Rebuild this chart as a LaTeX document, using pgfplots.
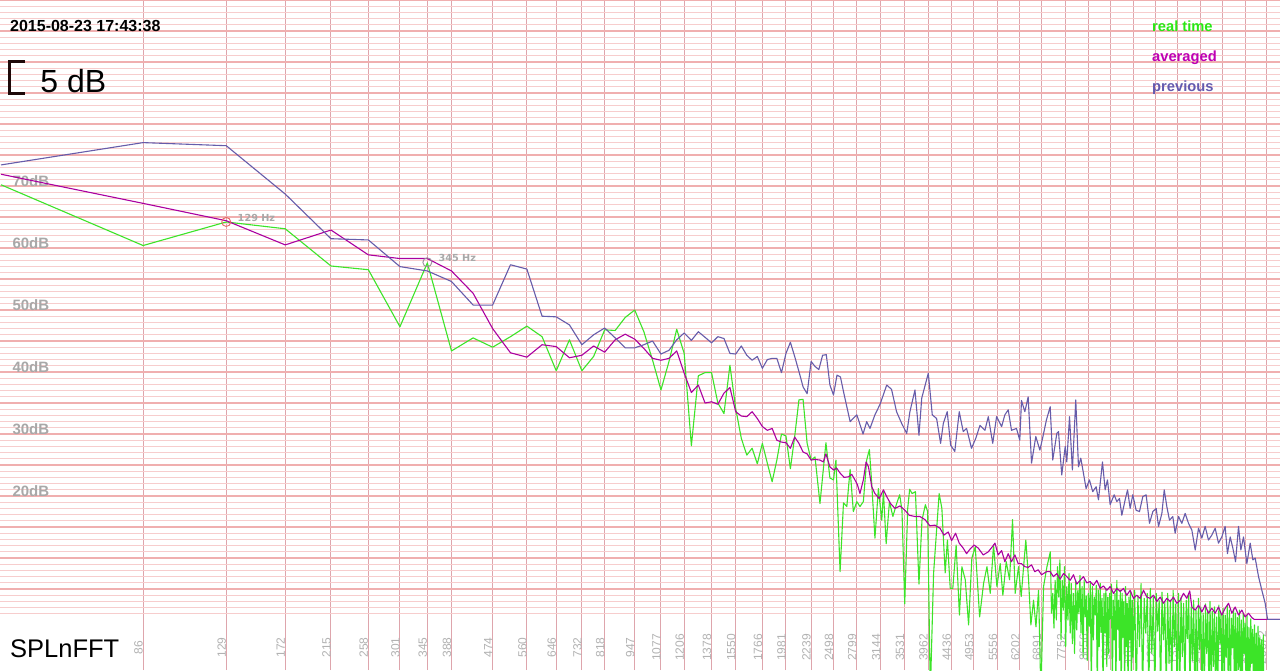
\documentclass[border=0pt]{standalone}
\usepackage{fontspec}
\setmainfont{Liberation Sans}
\newfontfamily\dejavu{DejaVu Sans}
\usepackage{pgfplots}
\pgfplotsset{compat=1.18}
\definecolor{gridthin}{RGB}{247,205,205}
\definecolor{gridthick}{RGB}{240,175,175}
\definecolor{vgrid}{RGB}{222,165,172}
\definecolor{tickgray}{RGB}{178,178,178}
\definecolor{labgray}{RGB}{168,168,168}
\definecolor{rtgreen}{RGB}{60,228,40}
\definecolor{avgmag}{RGB}{170,0,160}
\definecolor{prevblue}{RGB}{102,92,170}
\definecolor{legmag}{RGB}{190,0,180}
\definecolor{legblue}{RGB}{100,90,175}
\definecolor{leggreen}{RGB}{40,232,20}
\definecolor{bracketc}{RGB}{30,8,8}
\definecolor{mk129}{RGB}{232,100,100}
\definecolor{mk345}{RGB}{156,140,156}
\begin{document}
\begin{tikzpicture}
\begin{axis}[
  width=1280pt, height=670pt, scale only axis,
  xmode=log, xmin=0.9951, xmax=512, ymin=-8.06, ymax=100,
  axis line style={draw=none},
  major tick length=0pt, minor tick length=0pt,
  axis background/.style={fill=white},
  xtick={2,3,4,5,6,7,8,9,11,13,15,17,19,22,25,28,32,36,41,46,52,58,65,73,82,92,103,115,129,144,160,180,201,224,250,279,311,347,387,432,480},
  xticklabels={86,129,172,215,258,301,345,388,474,560,646,732,818,947,1077,1206,1378,1550,1766,1981,2239,2498,2799,3144,3531,3962,4436,4953,5556,6202,6891,7752,8656,9647,10767,12016,13394,14944,16667,18605,20672},
  ytick={5,10,...,100},
  yticklabels={,,,20dB,,30dB,,40dB,,50dB,,60dB,,70dB,,,,,,},
  minor ytick={1,2,...,100},
  xmajorgrids, ymajorgrids, yminorgrids,
  major x grid style={vgrid, line width=1pt},
  major y grid style={gridthick, line width=1.8pt},
  minor y grid style={gridthin, line width=1pt},
  xticklabel style={font=\fontsize{12}{12}\selectfont, text=tickgray, yshift=22.5pt, xshift=-4.5pt, rotate=90, anchor=center},
  yticklabel style={font=\bfseries\fontsize{15}{15}\selectfont, text=labgray, anchor=base west, xshift=9pt},
]
% real time
\addplot[rtgreen, mark=none, line width=1.1pt, line join=round] coordinates {
(1,70.2)(2,60.4)(3,64.2)(4,63.1)(5,57.1)(6,56.5)(7,47.3)(8,57.6)(9,43.4)(10,45.5)(11,44.0)(12,45.7)(13,47.4)(14,45.7)(15,40.2)(16,45.2)(17,40.2)(18,42.5)(19,46.8)(20,46.7)(21,48.8)(22,50.0)(23,46.5)(24,41.9)(25,37.1)(26,41.7)(27,46.9)(28,43.0)(29,28.1)(30,39.4)(31,39.9)(32,39.9)(33,35.0)(34,33.3)(35,41.1)(36,34.1)(37,29.3)(38,26.6)(39,27.7)(40,25.2)(41,28.5)(42,25.3)(43,22.3)(44,25.8)(45,30.0)(46,29.7)(47,24.4)(48,29.6)(49,35.5)(50,35.6)(51,28.5)(52,25.8)(53,26.3)(54.3,18.8)(55.9,28.6)(57.0,22.9)(58.0,22.6)(58.7,25.8)(59.9,7.8)(60.9,18.9)(61.9,18.3)(62.9,24.3)(63.9,17.5)(65.0,19.1)(66.0,18.3)(67.1,19.1)(68.2,25.8)(69.1,27.5)(69.9,22.0)(71.0,13.2)(72.2,21.2)(73.4,16.1)(74.0,20.7)(75.0,12.3)(76.2,19.1)(77.5,16.7)(78.8,18.6)(80.1,20.2)(81.0,17.7)(82.1,2.6)(83.3,18.0)(84.1,21.1)(85.1,20.4)(86.5,20.7)(88.0,5.8)(89.3,16.1)(90.8,18.6)(91.8,17.5)(93.0,-12)(94.5,7.5)(96.0,15.0)(97.1,20.4)(98.4,18.0)(100.0,7.6)(101.1,12.9)(102.5,5.1)(103.8,5.1)(105.5,12.1)(107.2,0.8)(108.5,8.6)(110.3,6.5)(112.1,-0.8)(113.9,10.0)(115.8,11.8)(118.3,0.5)(120.6,5.9)(122.6,8.6)(124.6,4.3)(126.6,12.1)(128.7,5.4)(130.8,9.1)(132.5,4.0)(134.7,9.4)(136.9,6.5)(138.9,16.2)(140.7,4.3)(143.0,8.6)(144.9,3.8)(146.6,8.6)(148.2,12.9)(150.2,6.5)(151.9,-0.8)(153.9,3.2)(155.7,-1.1)(157.7,4.8)(159.5,-12)(161.6,5.4)(164.3,8.6)
(167,11.0)(168,1.1)(169,4.3)(170,-1.3)(171,6.4)(172,0.0)(173,8.6)(174,3.7)(175,9.7)(176,-3.2)(177,6.4)(178,1.6)(179,8.6)(180,-4.3)(181,5.4)(182,0.0)(183,7.5)(184,-2.1)(185,5.9)(186,-3.8)(187,4.3)(188,-5.4)(189,6.4)(190,-1.6)(191,4.8)(192,1.0)(193,7.2)(194,-2.1)(195,5.4)(196,-6.0)(197,6.4)(198,0.5)(199,3.9)(200,-6.5)(201,4.3)(202,-1.0)(203,6.0)(204,-12)(205,5.4)(206,-3.2)(207,3.7)(208,0.8)(209,5.6)(210,-12)(211,4.8)(212,-4.3)(213,5.9)(214,-2.0)(215,3.5)(216,-12)(217,4.3)(218,-2.1)(219,5.1)(220,-7.5)(221,3.7)(222,-5.4)(223,4.3)(224,0.2)(225,5.8)(226,-12)(227,3.2)(228,-3.2)(229,4.3)(230,-12)(231,6.4)(232,-1.5)(233,3.2)(234,-6.5)(235,4.8)(236,-12)(237,4.3)(238,-2.8)(239,3.0)(240,-12)(241,5.4)(242,-4.3)(243,2.7)(244,-12)(245,3.7)(246,-3.2)(247,4.6)(248,-12)(249,3.2)(250,-6.0)
(252,4.8)(254,-12)(256,3.9)(258,-4.3)(260,5.9)(262,-12)(264,3.5)(266,-2.1)(268,4.3)(270,-12)(272,5.1)(274,-5.4)(276,3.7)(278,-12)(280,4.3)(282,-1.8)(284,3.2)(286,-12)(288,4.5)(290,-3.2)(292,2.9)(294,-12)(296,4.3)(298,-7.0)(300,3.2)(302,-12)(304,4.8)(306,-4.3)(308,2.6)(310,-12)(312,4.3)(314,-12)(316,3.7)(318,-5.9)(320,2.7)(322,-12)(324,3.2)(326,-3.0)(328,4.1)(330,-12)(332,2.1)(334,-6.5)(336,3.2)(338,-12)(340,1.6)(342,-12)(344,3.5)(346,-4.8)(348,2.1)(350,-12)(352,1.1)(354,-12)(356,2.6)(358,-5.4)(360,1.6)(362,-12)(364,3.0)(366,-12)(368,1.4)(370,-7.5)(372,2.1)(374,-12)(376,0.5)(378,-12)(380,2.4)(382,-3.8)(384,1.1)(386,-12)(388,1.9)(390,-12)(392,0.8)(394,-6.0)(396,2.4)(398,-12)(400,1.6)(402,-12)(404,0.3)(406,-4.5)(408,1.8)(410,-12)(412,1.1)(414,-12)(416,0.4)(418,-8)(420,1.6)(422,-12)(424,0.0)(426,-12)(428,1.1)(430,-5.4)(432,-0.5)(434,-12)(436,0.8)(438,-12)(440,-1.2)(442,-12)(444,0.2)(446,-7)(448,-1.5)(450,-12)(452,-0.8)(454,-12)(456,-2.1)(458,-12)(460,-1.0)(462,-12)(464,-2.7)(466,-12)(468,-3.2)(470,-12)(472,-2.4)(474,-20)(512,-20)
};
% averaged
\addplot[avgmag, mark=none, line width=1.1pt, line join=round] coordinates {
(1,71.9)(2,67.2)(3,64.4)(4,60.5)(5,62.9)(6,58.9)(7,58.3)(8,58.3)(9,56.3)(10,52.7)(11,47.0)(12,43.1)(13,42.4)(14,44.4)(15,44.1)(16,42.3)(17,42.7)(18,44.2)(19,43.2)(20,45.2)(21,46.1)(22,45.3)(23,43.8)(24,42.2)(25,41.9)(26,42.2)(27,43.4)(28,39.8)(29,36.7)(30,37.9)(31,35.0)(32,35.2)(33,34.8)(34,36.6)(35,37.5)(36,33.6)(37,32.9)(38,32.8)(39,33.6)(40,32.5)(41,31.2)(42,30.6)(43,30.9)(44,29.0)(45,28.7)(46,28.6)(47,27.7)(48,29.5)(49,28.5)(50,27.1)(51,26.8)(52,25.8)(53,25.9)(54.3,25.8)(55.2,25.5)(55.9,26.8)(57.0,24.7)(58.0,24.2)(58.9,24.5)(59.9,23.7)(61.1,23.0)(62.4,23.1)(63.4,23.5)(64.4,22.6)(65.2,21.8)(66.0,20.4)(67.1,22.6)(68.0,25.5)(68.8,24.7)(69.9,21.5)(71.0,20.4)(72.5,19.6)(74.0,21.0)(75.2,19.9)(76.6,18.8)(78.3,18.0)(80.2,18.4)(82.2,17.7)(83.9,16.9)(86.3,16.7)(88.4,16.7)(90.6,16.2)(92.8,15.2)(95.1,15.3)(97.5,14.8)(99.4,13.7)(101.5,14.2)(103.2,12.8)(105.2,14.0)(107.1,12.4)(109.2,11.6)(111.0,10.7)(112.8,11.4)(115.1,12.1)(117.5,11.6)(120.4,10.5)(123.4,11.0)(126.1,11.9)(127.5,12.4)(129.5,10.5)(131.7,11.2)(133.8,9.4)(136.0,10.7)(138.2,9.4)(140.5,10.5)(142.8,9.1)(145.1,9.1)(147.5,8.6)(149.9,8.5)(152.4,8.9)(154.8,7.8)(157.4,8.1)(160.0,7.3)(163.9,7.8)(166.9,7.8)(169.6,7.0)(172.4,7.5)(175.2,6.6)(178.1,7.5)(181.0,7.0)(184.0,6.4)(187.0,7.3)(190.0,5.8)(193.2,6.4)(196.3,7.0)(199.5,6.0)(202.8,6.2)(206.1,5.6)(209.5,6.4)(213.0,5.1)(216.4,5.5)(220.0,4.8)(223.6,5.4)(227.3,4.3)(231.0,5.1)(234.8,4.6)(238.6,5.1)(242.5,4.0)(246.5,4.8)(250.5,3.5)(254.6,4.0)(258.8,3.5)(263.1,4.8)(267.4,3.7)(271.8,3.5)(276.2,4.0)(280.8,3.0)(285.4,3.7)(290.0,2.7)(294.8,3.5)(299.6,3.0)(304.5,3.7)(309.5,2.7)(314.6,3.2)(319.8,4.3)(325.0,3.5)(329.7,4.7)(333.1,2.1)(338.6,1.6)(344.1,2.4)(349.7,1.3)(355.4,2.4)(361.2,1.1)(367.2,1.9)(373.2,1.1)(379.3,2.1)(385.5,0.8)(391.8,1.9)(398.3,2.7)(404.8,1.1)(411.4,2.1)(418.2,0.8)(425.0,1.6)(432.0,0.5)(439.1,1.1)(446.3,0.4)(451.5,0.1)(512,0.1)
};
% previous
\addplot[prevblue, mark=none, line width=1.1pt, line join=round] coordinates {
(1,73.4)(2,77.0)(3,76.5)(4,68.7)(5,61.5)(6,61.3)(7,57.0)(8,56.3)(9,54.6)(10,50.8)(11,50.8)(12,57.3)(13,56.6)(14,49.0)(15,48.9)(16,47.6)(17,44.4)(18,46.0)(19,47.1)(20,45.5)(21,43.9)(22,43.9)(23,44.4)(24,45.0)(25,42.9)(26,43.5)(27,45.2)(28,46.3)(29,45.1)(30,46.5)(31,45.6)(32,44.7)(33,45.7)(34,45.4)(35,43.0)(36,42.9)(37,44.2)(38,42.7)(39,41.9)(40,42.5)(41,40.6)(42,42.0)(43,42.2)(44,42.2)(45,39.9)(46,43.0)(47,44.8)(48,42.5)(49,40.1)(50,37.6)(51,36.5)(52,41.7)(53,40.9)(54,40.4)(55,42.7)(56,42.8)(57,37.9)(58,36.3)(59,39.5)(60,39.2)(61,36.6)(62.9,32.0)(65.0,33.1)(67.0,30.0)(68.2,32.0)(69.3,30.9)(71.0,33.1)(72.8,34.8)(75.2,37.9)(77.0,37.2)(78.9,33.6)(80.9,31.7)(82.9,30.1)(84.2,33.6)(86.3,37.1)(88.0,29.8)(89.2,35.8)(92.1,39.8)(93.9,33.1)(95.9,32.5)(97.8,28.5)(99.1,31.7)(101.0,33.6)(102.7,28.2)(104.8,27.2)(107.1,33.6)(109.2,30.4)(111.0,30.9)(113.7,27.7)(116.1,29.3)(118.5,31.4)(121.4,30.6)(123.4,32.8)(126.1,28.5)(128.5,32.8)(131.7,31.2)(133.8,33.1)(136.0,33.9)(138.2,30.6)(141.6,30.9)(143.9,29.0)(145.1,35.4)(147.5,33.6)(149.9,36.0)(152.4,25.3)(155.6,29.6)(158.7,27.4)(160.8,29.3)(163.9,32.3)(166.9,34.4)(169.0,25.8)(172.4,30.1)(173.8,30.4)(176.6,23.4)(179.6,28.0)(181.0,25.5)(183.4,32.8)(186.0,24.2)(189.1,35.5)(191.6,24.7)(193.8,26.1)(196.3,23.7)(198.9,21.2)(202.1,22.6)(205.4,20.7)(208.8,21.5)(211.2,19.4)(215.4,25.5)(218.2,21.0)(220.7,22.6)(223.6,18.6)(228.0,20.2)(231.0,19.1)(234.0,19.6)(236.7,16.9)(240.6,19.4)(243.4,21.0)(246.5,18.0)(249.7,20.2)(253.8,17.7)(258.0,17.5)(262.2,19.9)(266.5,20.2)(270.9,15.6)(275.4,17.5)(279.9,18.0)(283.1,15.1)(287.8,17.2)(291.1,21.0)(294.8,18.3)(298.7,16.1)(303.5,16.7)(307.0,14.0)(312.1,16.7)(317.2,15.6)(322.4,17.2)(327.7,15.6)(333.1,14.5)(338.6,11.3)(344.1,14.8)(349.7,13.2)(355.4,15.1)(361.2,12.9)(367.2,13.7)(373.2,14.8)(379.3,12.4)(385.5,13.4)(391.8,15.1)(396.3,10.7)(401.6,13.4)(406.8,11.6)(412.2,9.4)(418.2,15.1)(423.0,11.3)(428.5,13.4)(435.6,9.1)(442.7,12.4)(448.5,9.7)(453.6,10.0)(461.1,7.0)(468.6,4.8)(476.3,2.7)(481.8,0.1)(512,0.1)
};
% peak markers
\addplot[mk129, only marks, mark=o, mark size=4.5pt, mark options={line width=0.9pt, fill=none}] coordinates {(3,64.2)};
\addplot[mk345, only marks, mark=o, mark size=4.5pt, mark options={line width=0.9pt, fill=none}] coordinates {(8,57.7)};
\node[anchor=base west, inner sep=0pt, font=\dejavu\bfseries\fontsize{9.7}{10}\selectfont, text=labgray] at (axis cs:3.17,64.24) {129 Hz};
\node[anchor=base west, inner sep=0pt, font=\dejavu\bfseries\fontsize{9.7}{10}\selectfont, text=labgray] at (axis cs:8.44,57.79) {345 Hz};
% texts
\node[anchor=base west, inner sep=0pt, font=\bfseries\fontsize{16}{16}\selectfont] at (axis description cs:0.0078,0.9527) {2015-08-23 17:43:38};
\draw[bracketc, line width=3.5pt] (axis description cs:0.01953,0.90821) -- (axis description cs:0.00742,0.90821) -- (axis description cs:0.00742,0.86045) -- (axis description cs:0.01953,0.86045);
\node[anchor=base west, inner sep=0pt, font=\fontsize{32}{32}\selectfont] at (axis description cs:0.0314,0.8616) {5 dB};
\node[anchor=base west, inner sep=0pt, font=\bfseries\fontsize{14.7}{15}\selectfont, text=leggreen] at (axis description cs:0.9,0.9527) {real time};
\node[anchor=base west, inner sep=0pt, font=\bfseries\fontsize{14.7}{15}\selectfont, text=legmag] at (axis description cs:0.9,0.9075) {averaged};
\node[anchor=base west, inner sep=0pt, font=\bfseries\fontsize{14.7}{15}\selectfont, text=legblue] at (axis description cs:0.9,0.8627) {previous};
\node[anchor=base west, inner sep=0pt, font=\fontsize{25.5}{26}\selectfont] at (axis description cs:0.0078,0.0194) {SPLnFFT};
\end{axis}
\pgfresetboundingbox
\useasboundingbox (current axis.south west) rectangle (current axis.north east);
\end{tikzpicture}
\end{document}
